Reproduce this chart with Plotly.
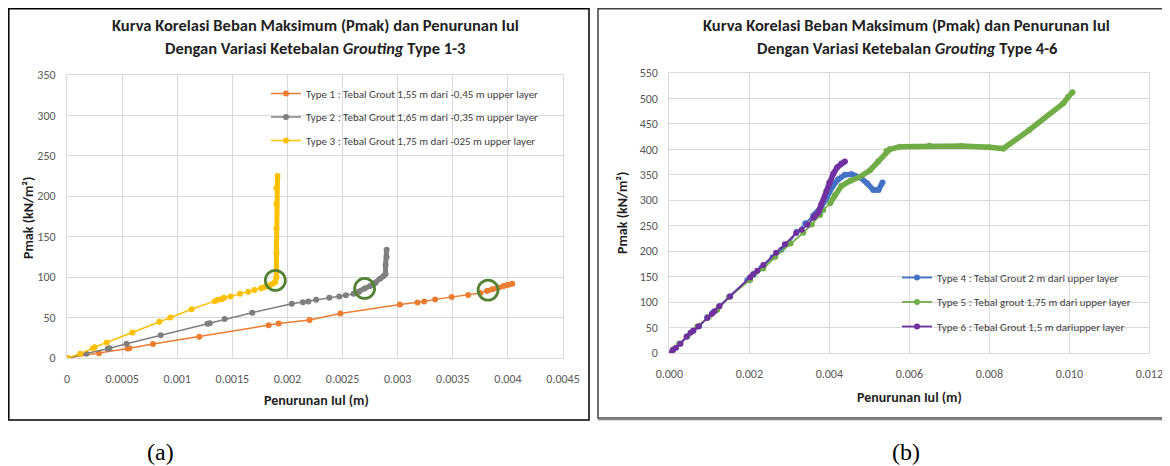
import plotly.graph_objects as go

# the page body has an 8 px margin, so the figure is sized and positioned to compensate
OFF = 8
W, H = 1170 - OFF, 466 - OFF

# ---------------- data: chart (a) ----------------
T1_X = [0, 0.00029, 0.00055, 0.000566, 0.00078, 0.0012, 0.00183, 0.00192, 0.0022, 0.00248,
        0.00302, 0.00318, 0.00324, 0.00334, 0.00349, 0.00364, 0.00375, 0.00381, 0.00386,
        0.00391, 0.00396, 0.004, 0.00404]
T1_Y = [0, 5.9, 11.7, 12.1, 17.2, 26.4, 40.6, 42.7, 47.1, 55, 66.1, 68.6, 69.8, 72.5, 75.5,
        78, 80.5, 83, 85, 87, 89, 90.5, 91.7]
T2_X = [0, 0.000175, 0.00037, 0.000386, 0.00054, 0.00085, 0.001274, 0.001295, 0.00143,
        0.00168, 0.00204, 0.00214, 0.00219, 0.00226, 0.00238, 0.00247, 0.00253, 0.0026,
        0.00265, 0.0027, 0.00275, 0.0028, 0.00284, 0.00287, 0.00289, 0.00289, 0.0029, 0.0029]
T2_Y = [0, 5.4, 11.3, 12.1, 17.6, 28, 42.3, 43.1, 48.1, 56, 67, 69, 70, 72, 74.5, 76, 77.5,
        79.5, 82, 86, 89, 93, 98, 101, 104, 115, 125, 134]
T3_X = [0, 0.00012, 0.000235, 0.00025, 0.00036, 0.000593, 0.000837, 0.000937, 0.00113,
        0.00134, 0.00137, 0.0014, 0.001425, 0.001485, 0.00157, 0.001645, 0.0017, 0.00176,
        0.0018, 0.00184, 0.00187, 0.00189, 0.0019, 0.0019, 0.0019, 0.0019, 0.0019, 0.00191]
T3_Y = [0, 5.4, 12.1, 13.4, 19.2, 31.4, 44.8, 50.2, 60.3, 70.3, 72, 72.8, 74.5, 76.2, 79.5,
        82, 84.1, 86.2, 88, 90, 92, 94, 100, 130, 160, 190, 210, 225]
DENSE_A = [17, 17, 17]
CIRC_A_X = [0.00189, 0.0027, 0.00382]
CIRC_A_Y = [96, 86, 84]
NAMES_A = ["Type 1 : Tebal Grout 1,55 m dari -0,45 m upper layer",
           "Type 2 : Tebal Grout 1,65 m dari -0,35 m upper layer",
           "Type 3 : Tebal Grout 1,75 m dari -025 m upper layer"]
XTICKS_A = [0, 0.0005, 0.001, 0.0015, 0.002, 0.0025, 0.003, 0.0035, 0.004, 0.0045]
XTICKTEXT_A = ["0", "0.0005", "0.001", "0.0015", "0.002", "0.0025", "0.003", "0.0035", "0.004", "0.0045"]

# ---------------- data: chart (b) ----------------
T4_X = [0, 0.0001, 0.00025, 0.00045, 0.0006, 0.00075, 0.00095, 0.0011, 0.00125, 0.0015,
        0.00195, 0.0021, 0.0023, 0.00258, 0.0028, 0.00298, 0.00319, 0.0034, 0.0036, 0.00377,
        0.00393, 0.00408, 0.00422, 0.00439, 0.00456, 0.00477, 0.00495, 0.0051, 0.00523, 0.00533]
T4_Y = [0, 7, 18, 33, 43, 53, 70, 80, 92, 111, 143, 153, 167, 188, 203, 215, 238, 255, 270,
        284, 304, 327, 341, 350, 351, 345, 333, 320, 320, 335]
T5_X = [0, 0.0001, 0.00025, 0.00045, 0.0007, 0.00098, 0.0012, 0.0015, 0.00202, 0.00235,
        0.00265, 0.00303, 0.00335, 0.00356, 0.00377, 0.00385, 0.00402, 0.00414, 0.0043,
        0.00452, 0.00477, 0.00502, 0.00522, 0.00543, 0.00551, 0.00576, 0.0065, 0.0073,
        0.008, 0.00835, 0.009, 0.00985, 0.00997, 0.01008]
T5_Y = [0, 7, 18, 33, 52, 70.8, 85, 110, 143.5, 166, 189, 215, 236, 252.6, 271, 281, 294,
        310, 328, 338, 346, 359, 376, 397, 400, 405, 407, 406.5, 404, 401.5, 438, 490.5, 503, 512]
T6_X = [0, 0.000083, 0.000167, 0.00028, 0.00043, 0.00053, 0.0006, 0.00073, 0.00095, 0.00106,
        0.00113, 0.00125, 0.00152, 0.00202, 0.0021, 0.0022, 0.00235, 0.00267, 0.00289,
        0.00317, 0.00331, 0.00345, 0.0036, 0.00373, 0.0038, 0.00393, 0.004, 0.0041, 0.0042,
        0.0043, 0.00439]
T6_Y = [0, 5.2, 10.4, 18.2, 31.8, 39.6, 44.2, 52, 68.8, 76.6, 81.8, 91.6, 111, 148.7, 155,
        161.7, 172.7, 196.8, 213.6, 235.7, 242, 252, 265.6, 276.6, 292, 318, 335, 352, 365,
        372, 376]
DENSE_B = [18, 16, 22]
NAMES_B = ["Type 4 : Tebal Grout 2 m dari upper layer",
           "Type 5 : Tebal grout 1,75 m dari upper layer",
           "Type 6 : Tebal Grout 1,5 m dariupper layer"]
XTICKS_B = [0, 0.002, 0.004, 0.006, 0.008, 0.010, 0.012]

COL_A = ["#ED7D31", "#7F7F7F", "#FFC000"]
COL_B = ["#4472C4", "#70AD47", "#7030A0"]

FONT = "Carlito, Lato, sans-serif"


def px(x):
    return (x - OFF) / W


def py(y):
    return 1 - (y - OFF) / H


fig = go.Figure()

series_a = [(T1_X, T1_Y), (T2_X, T2_Y), (T3_X, T3_Y)]
for i, (xs, ys) in enumerate(series_a):
    fig.add_trace(go.Scatter(x=xs, y=ys, mode="lines+markers", name=NAMES_A[i],
                             line=dict(color=COL_A[i], width=1.5),
                             marker=dict(color=COL_A[i], size=6),
                             xaxis="x", yaxis="y", legend="legend", legendgroup="a%d" % i))
for i, (xs, ys) in enumerate(series_a):
    k = DENSE_A[i]
    fig.add_trace(go.Scatter(x=xs[k:], y=ys[k:], mode="lines", showlegend=False,
                             line=dict(color=COL_A[i], width=5),
                             xaxis="x", yaxis="y", hoverinfo="skip"))
fig.add_trace(go.Scatter(x=CIRC_A_X, y=CIRC_A_Y, mode="markers", showlegend=False,
                         marker=dict(symbol="circle-open", size=20, color="#548235",
                                     line=dict(width=2.8, color="#548235")),
                         xaxis="x", yaxis="y", hoverinfo="skip"))

series_b = [(T4_X, T4_Y), (T5_X, T5_Y), (T6_X, T6_Y)]
for i, (xs, ys) in enumerate(series_b):
    fig.add_trace(go.Scatter(x=xs, y=ys, mode="lines+markers", name=NAMES_B[i],
                             line=dict(color=COL_B[i], width=1.8),
                             marker=dict(color=COL_B[i], size=6),
                             xaxis="x2", yaxis="y2", legend="legend2", legendgroup="b%d" % i))
for i, (xs, ys) in enumerate(series_b):
    k = DENSE_B[i]
    fig.add_trace(go.Scatter(x=xs[k:], y=ys[k:], mode="lines", showlegend=False,
                             line=dict(color=COL_B[i], width=5.5),
                             xaxis="x2", yaxis="y2", hoverinfo="skip"))

axis_common = dict(showgrid=True, gridcolor="#D9D9D9", gridwidth=1, zeroline=False,
                   showline=True, linecolor="#D9D9D9", linewidth=1, mirror=True,
                   automargin=False,
                   ticks="", tickfont=dict(family=FONT, size=12, color="#595959"))

fig.update_layout(
    width=W, height=H, margin=dict(l=0, r=0, t=0, b=0, pad=0, autoexpand=False),
    paper_bgcolor="white", plot_bgcolor="white",
    xaxis=dict(domain=[px(67), px(563)], range=[0, 0.0045], tickvals=XTICKS_A,
               ticktext=XTICKTEXT_A, anchor="y", ticklabelstandoff=10, **axis_common),
    yaxis=dict(domain=[py(358), py(75)], range=[0, 350], dtick=50, anchor="x",
               ticklabelstandoff=8, **axis_common),
    xaxis2=dict(domain=[px(669.3), px(1149.3)], range=[0, 0.012], tickvals=XTICKS_B,
                tickformat=".3f", anchor="y2", ticklabelstandoff=10, **axis_common),
    yaxis2=dict(domain=[py(353), py(73)], range=[0, 550], dtick=50, anchor="x2",
                ticklabelstandoff=8, **axis_common),
    legend=dict(x=px(266), y=py(79), xanchor="left", yanchor="top", bgcolor="rgba(0,0,0,0)",
                font=dict(family=FONT, size=11, color="#404040"), tracegroupgap=4.5),
    legend2=dict(x=px(897), y=py(263), xanchor="left", yanchor="top", bgcolor="rgba(0,0,0,0)",
                 font=dict(family=FONT, size=11, color="#404040"), tracegroupgap=5.5),
    showlegend=True,
)

title_font = dict(family=FONT, size=16.5, color="#1F1F1F")
lab_font = dict(family=FONT, size=14, color="#1F1F1F")
ann = [
    dict(x=px(315), y=py(25), text="<b>Kurva Korelasi Beban Maksimum (Pmak) dan Penurunan Iul</b>", font=title_font),
    dict(x=px(315), y=py(48), text="<b>Dengan Variasi Ketebalan <i>Grouting</i> Type 1-3</b>", font=title_font),
    dict(x=px(907), y=py(25), text="<b>Kurva Korelasi Beban Maksimum (Pmak) dan Penurunan Iul</b>", font=title_font),
    dict(x=px(907), y=py(48), text="<b>Dengan Variasi Ketebalan <i>Grouting</i> Type 4-6</b>", font=title_font),
    dict(x=px(316), y=py(400), text="<b>Penurunan Iul (m)</b>", font=lab_font),
    dict(x=px(909), y=py(397), text="<b>Penurunan Iul (m)</b>", font=lab_font),
    dict(x=px(28), y=py(218), text="<b>Pmak (kN/m²)</b>", font=lab_font, textangle=-90),
    dict(x=px(622), y=py(213), text="<b>Pmak (kN/m²)</b>", font=lab_font, textangle=-90),
    dict(x=px(160), y=py(452), text="(a)", font=dict(family="Liberation Serif, serif", size=24, color="black")),
    dict(x=px(906), y=py(452), text="(b)", font=dict(family="Liberation Serif, serif", size=24, color="black")),
]
for a in ann:
    a.update(xref="paper", yref="paper", showarrow=False, xanchor="center", yanchor="middle")
    fig.add_annotation(**a)

shapes = [
    dict(type="rect", x0=px(8.8), x1=px(589), y0=py(420), y1=py(8.8), line=dict(color="black", width=1.5)),
    dict(type="rect", x0=px(598), x1=px(1167), y0=py(418), y1=py(8.8), line=dict(color="#404040", width=1.5)),
    dict(type="line", x0=px(598), x1=px(1168), y0=py(419), y1=py(419), line=dict(color="#808080", width=2.5)),
]
for s in shapes:
    s.update(xref="paper", yref="paper", layer="above")
    fig.add_shape(**s)

fig.write_html("out.html")
